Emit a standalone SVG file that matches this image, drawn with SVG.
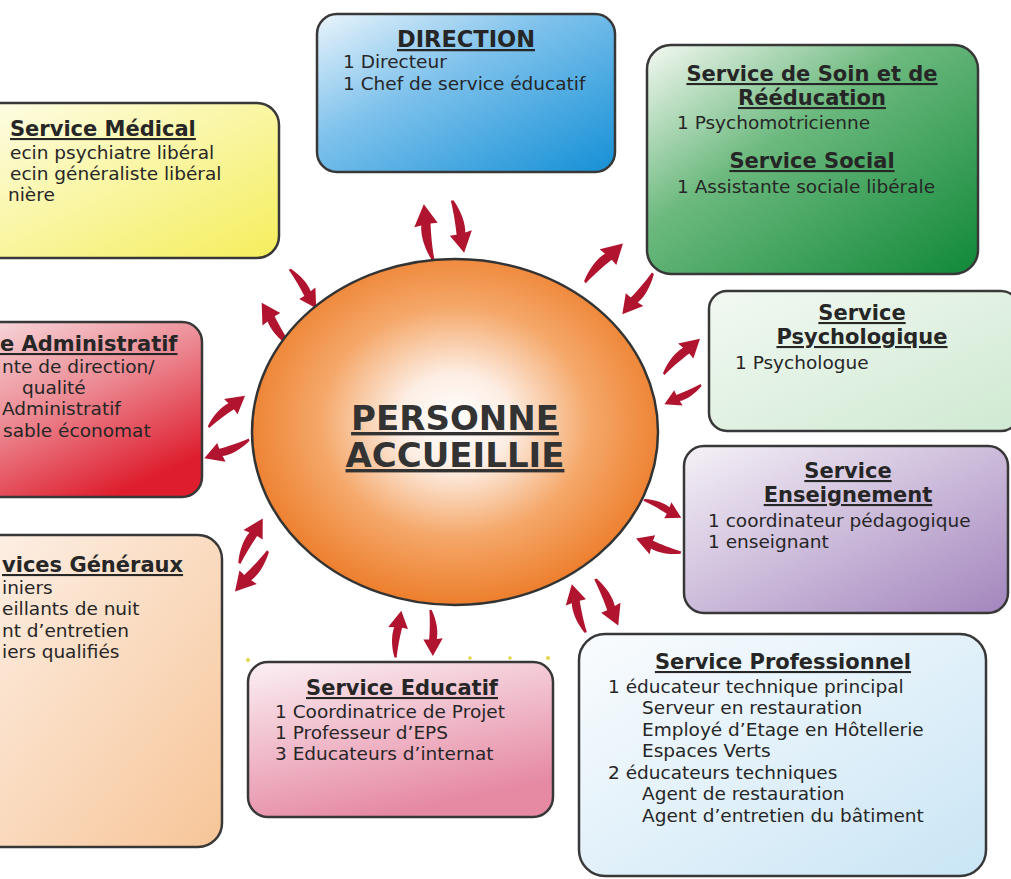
<svg xmlns="http://www.w3.org/2000/svg" xmlns:xlink="http://www.w3.org/1999/xlink" width="1011" height="879" viewBox="0 0 1011 879">
<style>
.box{stroke:#383838;stroke-width:2.5}
text{font-family:"DejaVu Sans",sans-serif;fill:#262626}
.t{font-weight:bold;font-size:21px;text-decoration:underline}
.b{font-size:18.5px}
.c{text-anchor:middle}
.big{font-weight:bold;font-size:34px;text-anchor:middle;text-decoration:underline;fill:#333}
.arr{fill:#b0142e}
</style>
<defs>
<linearGradient id="gMed" x1="0" y1="0" x2="1" y2="1"><stop offset="0" stop-color="#fefde9"/><stop offset="1" stop-color="#f5ee5c"/></linearGradient>
<linearGradient id="gDir" x1="0" y1="0" x2="1" y2="1"><stop offset="0" stop-color="#eaf4fb"/><stop offset="0.4" stop-color="#7fc2ec"/><stop offset="1" stop-color="#1590d6"/></linearGradient>
<linearGradient id="gSoin" x1="0" y1="0" x2="1" y2="1"><stop offset="0" stop-color="#f5f9f3"/><stop offset="0.4" stop-color="#6cb97e"/><stop offset="1" stop-color="#108838"/></linearGradient>
<linearGradient id="gPsy" x1="0" y1="0" x2="1" y2="1"><stop offset="0" stop-color="#f2f9f2"/><stop offset="1" stop-color="#cfe9d2"/></linearGradient>
<linearGradient id="gAdm" x1="0" y1="0" x2="0.6" y2="1"><stop offset="0" stop-color="#f7dde0"/><stop offset="0.5" stop-color="#ec8a93"/><stop offset="1" stop-color="#de1e2e"/></linearGradient>
<linearGradient id="gEns" x1="0" y1="0" x2="1" y2="1"><stop offset="0" stop-color="#f5f1f7"/><stop offset="1" stop-color="#a385bd"/></linearGradient>
<linearGradient id="gGen" x1="0" y1="0" x2="1" y2="1"><stop offset="0" stop-color="#fdf1e8"/><stop offset="1" stop-color="#f7c598"/></linearGradient>
<linearGradient id="gEdu" x1="0" y1="0" x2="0.4" y2="1"><stop offset="0" stop-color="#fbf0f4"/><stop offset="1" stop-color="#e68aa4"/></linearGradient>
<linearGradient id="gPro" x1="0" y1="0" x2="1" y2="1"><stop offset="0" stop-color="#fafcfe"/><stop offset="1" stop-color="#c9e5f5"/></linearGradient>
<radialGradient id="gC" cx="0.5" cy="0.47" r="0.55"><stop offset="0" stop-color="#ffffff"/><stop offset="0.25" stop-color="#fdeee4"/><stop offset="0.6" stop-color="#f5a86a"/><stop offset="1" stop-color="#ec7a26"/></radialGradient>
<path id="arr" d="M1.5 0 C-4.5 -12,-6.5 -24,-5 -32 L-11.5 -31 L-1 -51 L10 -33 L3.5 -33 C3 -24,3 -12,4 0 Z"/>
</defs>
<rect width="1011" height="879" fill="#ffffff"/>

<g id="connectors" class="arr">
<use xlink:href="#arr" transform="translate(430,260) rotate(-5.2) scale(1.10)"/>
<use xlink:href="#arr" transform="translate(455,200) rotate(171.3) scale(1.05)"/>
<use xlink:href="#arr" transform="translate(292,268) rotate(150.1) scale(0.92)"/>
<use xlink:href="#arr" transform="translate(288,347) rotate(-29.6) scale(1.01)"/>
<use xlink:href="#arr" transform="translate(583,280) rotate(48.8) scale(1.06)"/>
<use xlink:href="#arr" transform="translate(655,275) rotate(-139) scale(1.0)"/>
<use xlink:href="#arr" transform="translate(662,372) rotate(49.9) scale(0.99)"/>
<use xlink:href="#arr" transform="translate(702,387) rotate(-113.4) scale(0.81)"/>
<use xlink:href="#arr" transform="translate(645,498) rotate(119.7) scale(0.81)"/>
<use xlink:href="#arr" transform="translate(680,555) rotate(-68.4) scale(0.92)"/>
<use xlink:href="#arr" transform="translate(598,578) rotate(158) scale(1.01)"/>
<use xlink:href="#arr" transform="translate(583,633) rotate(-11.8) scale(0.98)"/>
<use xlink:href="#arr" transform="translate(433,610) rotate(-178.7) scale(0.9)"/>
<use xlink:href="#arr" transform="translate(393,657) rotate(11.3) scale(0.92)"/>
<use xlink:href="#arr" transform="translate(237,562) rotate(31.8) scale(0.99)"/>
<use xlink:href="#arr" transform="translate(270,553) rotate(-136.6) scale(1.02)"/>
<use xlink:href="#arr" transform="translate(207,425) rotate(53.6) scale(0.94)"/>
<use xlink:href="#arr" transform="translate(250,442) rotate(-108.4) scale(0.95)"/>
</g>

<g id="personne">
<ellipse cx="455" cy="432" rx="203" ry="173" fill="url(#gC)" stroke="#333" stroke-width="2.5"/>
<text class="big" x="455" y="430">PERSONNE</text>
<text class="big" x="455" y="467">ACCUEILLIE</text>
</g>

<g id="medical">
<rect class="box" x="-30" y="103" width="309" height="155" rx="22" fill="url(#gMed)"/>
<text class="t" x="10" y="136">Service Médical</text>
<text class="b" x="10" y="159">ecin psychiatre libéral</text>
<text class="b" x="10" y="180">ecin généraliste libéral</text>
<text class="b" x="8" y="201">nière</text>
</g>

<g id="direction">
<rect class="box" x="317" y="14" width="298" height="158" rx="20" fill="url(#gDir)"/>
<text class="t c" x="466" y="47" style="font-size:22.5px">DIRECTION</text>
<text class="b" x="343" y="68">1 Directeur</text>
<text class="b" x="343" y="90">1 Chef de service éducatif</text>
</g>

<g id="soin">
<rect class="box" x="647" y="45" width="331" height="229" rx="24" fill="url(#gSoin)"/>
<text class="t c" x="812" y="81">Service de Soin et de</text>
<text class="t c" x="812" y="105">Rééducation</text>
<text class="b" x="677" y="129">1 Psychomotricienne</text>
<text class="t c" x="812" y="168">Service Social</text>
<text class="b" x="677" y="193">1 Assistante sociale libérale</text>
</g>

<g id="psychologique">
<rect class="box" x="709" y="291" width="310" height="140" rx="18" fill="url(#gPsy)"/>
<text class="t c" x="862" y="320">Service</text>
<text class="t c" x="862" y="344">Psychologique</text>
<text class="b" x="735" y="369">1 Psychologue</text>
</g>

<g id="administratif">
<rect class="box" x="-30" y="322" width="232" height="175" rx="20" fill="url(#gAdm)"/>
<text class="t" x="0" y="351">e Administratif</text>
<text class="b" x="2" y="373">nte de direction/</text>
<text class="b" x="22" y="394">qualité</text>
<text class="b" x="2" y="415">Administratif</text>
<text class="b" x="3" y="437">sable économat</text>
</g>

<g id="enseignement">
<rect class="box" x="684" y="446" width="324" height="167" rx="20" fill="url(#gEns)"/>
<text class="t c" x="848" y="478">Service</text>
<text class="t c" x="848" y="502">Enseignement</text>
<text class="b" x="708" y="527">1 coordinateur pédagogique</text>
<text class="b" x="708" y="548">1 enseignant</text>
</g>

<g id="generaux">
<rect class="box" x="-30" y="535" width="252" height="312" rx="24" fill="url(#gGen)"/>
<text class="t" x="2" y="572">vices Généraux</text>
<text class="b" x="2" y="594">iniers</text>
<text class="b" x="2" y="615">eillants de nuit</text>
<text class="b" x="2" y="637">nt d’entretien</text>
<text class="b" x="2" y="658">iers qualifiés</text>
</g>

<g id="educatif">
<circle cx="248" cy="660" r="2" fill="#e6d64a"/>
<circle cx="470" cy="658" r="1.8" fill="#e6d64a"/>
<circle cx="510" cy="658" r="1.8" fill="#e6d64a"/>
<circle cx="548" cy="658" r="2" fill="#e6d64a"/>
<rect class="box" x="248" y="662" width="305" height="155" rx="20" fill="url(#gEdu)"/>
<text class="t c" x="402" y="695">Service Educatif</text>
<text class="b" x="275" y="718">1 Coordinatrice de Projet</text>
<text class="b" x="275" y="739">1 Professeur d’EPS</text>
<text class="b" x="275" y="760">3 Educateurs d’internat</text>
</g>

<g id="professionnel">
<rect class="box" x="579" y="634" width="407" height="242" rx="26" fill="url(#gPro)"/>
<text class="t c" x="783" y="669">Service Professionnel</text>
<text class="b" x="608" y="693">1 éducateur technique principal</text>
<text class="b" x="642" y="714">Serveur en restauration</text>
<text class="b" x="642" y="736">Employé d’Etage en Hôtellerie</text>
<text class="b" x="642" y="757">Espaces Verts</text>
<text class="b" x="608" y="779">2 éducateurs techniques</text>
<text class="b" x="642" y="800">Agent de restauration</text>
<text class="b" x="642" y="822">Agent d’entretien du bâtiment</text>
</g>
</svg>
